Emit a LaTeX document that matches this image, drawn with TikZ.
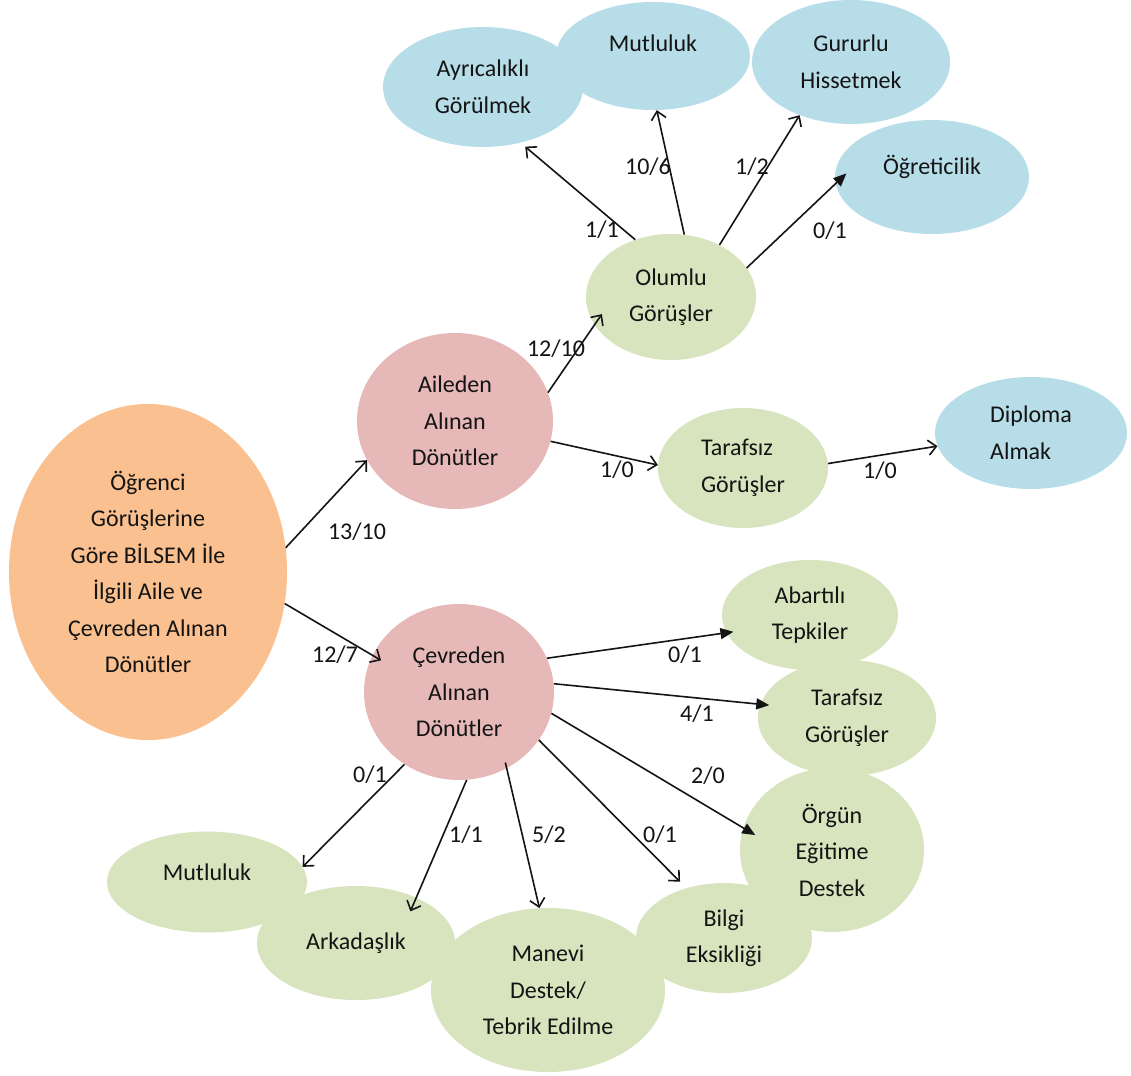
\documentclass[tikz,border=0pt]{standalone}
\usepackage{fontspec}
\setmainfont{Carlito}
\usetikzlibrary{shapes.geometric,arrows.meta}
\definecolor{orangefill}{RGB}{250,192,143}
\definecolor{pinkfill}{RGB}{230,185,184}
\definecolor{greenfill}{RGB}{215,228,189}
\definecolor{bluefill}{RGB}{183,221,232}
\definecolor{ink}{RGB}{20,20,20}
\tikzset{
  bubble/.style={ellipse, inner sep=0pt, align=center, text=ink,
    font=\fontsize{24}{36.5}\selectfont},
  orangeb/.style={bubble, fill=orangefill},
  pinkb/.style={bubble, fill=pinkfill},
  greenb/.style={bubble, fill=greenfill},
  blueb/.style={bubble, fill=bluefill},
  opena/.style={draw=ink, line width=1.6pt, -{Straight Barb[length=8pt,width=15pt]}},
  filla/.style={draw=ink, line width=1.6pt, -{Triangle[length=13pt,width=11pt]}},
  lab/.style={inner sep=0pt, text=ink, font=\fontsize{24}{29}\selectfont}
}
\begin{document}
\begin{tikzpicture}[x=1pt,y=-1pt]
\useasboundingbox (0,0) rectangle (1131,1075);
\fill[white] (0,0) rectangle (1131,1075);

% central topic
\node[orangeb, minimum width=278pt, minimum height=336pt] (O) at (148,572)
  {Öğrenci\\Görüşlerine\\Göre BİLSEM İle\\İlgili Aile ve\\Çevreden Alınan\\Dönütler};

% two main branches
\node[pinkb, minimum width=196pt, minimum height=176pt] (A) at (455,421) {Aileden\\Alınan\\Dönütler};
\node[pinkb, minimum width=190pt, minimum height=176pt] (C) at (459,692) {Çevreden\\Alınan\\Dönütler};

% family branch
\node[greenb, minimum width=170pt, minimum height=126pt] (Ol) at (671,297) {Olumlu\\Görüşler};
\node[greenb, minimum width=170pt, minimum height=120pt, align=left] (T1) at (743,468) {Tarafsız\\Görüşler};
\node[blueb, minimum width=192pt, minimum height=112pt, align=left] (D) at (1031,433) {Diploma\\Almak};
\node[blueb, minimum width=200pt, minimum height=120pt] (Ay) at (483,87) {Ayrıcalıklı\\Görülmek};
\node[blueb, minimum width=194pt, minimum height=108pt] (M1) at (653,56) {\raisebox{13pt}[\height][\depth]{Mutluluk}};
\node[blueb, minimum width=198pt, minimum height=124pt] (G) at (851,62) {Gururlu\\Hissetmek};
\node[blueb, minimum width=194pt, minimum height=114pt] (Og) at (932,177) {\raisebox{10pt}[\height][\depth]{Öğreticilik}};

% environment branch
\node[greenb, minimum width=176pt, minimum height=110pt] (Ab) at (810,615) {Abartılı\\Tepkiler};
\node[greenb, minimum width=178pt, minimum height=116pt] (T2) at (847,718) {Tarafsız\\Görüşler};
\node[greenb, minimum width=184pt, minimum height=164pt] (Or) at (832,850) {Örgün\\Eğitime\\Destek};
\node[greenb, minimum width=176pt, minimum height=110pt] (B) at (724,938) {Bilgi\\Eksikliği};
\node[greenb, minimum width=200pt, minimum height=101pt] (M2) at (207,882) {\raisebox{10pt}[\height][\depth]{Mutluluk}};
\node[greenb, minimum width=198pt, minimum height=114pt] (Ar) at (356,943) {Arkadaşlık};
\node[greenb, minimum width=234pt, minimum height=164pt] (Ma) at (548,990) {Manevi\\Destek/\\Tebrik Edilme};

% connectors
\draw[opena] (O.10) -- (A.204);
\draw[opena, shorten >=-10pt] (O.-13) -- (C.157);
\draw[opena, shorten >=-13pt] (A.17) -- (Ol.200);
\draw[opena] (A.-12) -- (T1.178);
\draw[opena] (T1.3) -- (D.188);
\draw[opena, shorten >=6pt] (Ol.122) -- (Ay.-56);
\draw[opena] (Ol.78) -- (M1.-86);
\draw[opena] (Ol.47) -- (G.226);
\draw[filla, shorten >=-15pt] (Ol.21) -- (Og.184);
\draw[filla, shorten >=-7pt] (C.21) -- (Ab.192);
\draw[filla, shorten >=-9pt] (C.5) -- (T2.171);
\draw[filla, shorten >=-14pt] (C.-13) -- (Or.166);
\draw[opena] (C.233) -- (M2.9);
\draw[opena, shorten >=-15pt] (C.-85) -- (Ar.37);
\draw[opena, shorten <=-6pt] (C.-58) -- (Ma.96);
\draw[opena, shorten >=9pt] (C.-31) -- (B.127);

% counts
\node[lab] (l1) at (357,532) {13/10};
\node[lab] (l2) at (335,655) {12/7};
\node[lab] (l3) at (556,349) {12/10};
\node[lab] (l4) at (617,470) {1/0};
\node[lab] (l5) at (880,471) {1/0};
\node[lab] (l6) at (602,230) {1/1};
\node[lab] (l7) at (648,167) {10/6};
\node[lab] (l8) at (752,167) {1/2};
\node[lab] (l9) at (830,231) {0/1};
\node[lab] (l10) at (685,655) {0/1};
\node[lab] (l11) at (697,714) {4/1};
\node[lab] (l12) at (708,776) {2/0};
\node[lab] (l13) at (370,775) {0/1};
\node[lab] (l14) at (466,835) {1/1};
\node[lab] (l15) at (549,835) {5/2};
\node[lab] (l16) at (660,835) {0/1};
\end{tikzpicture}
\end{document}
